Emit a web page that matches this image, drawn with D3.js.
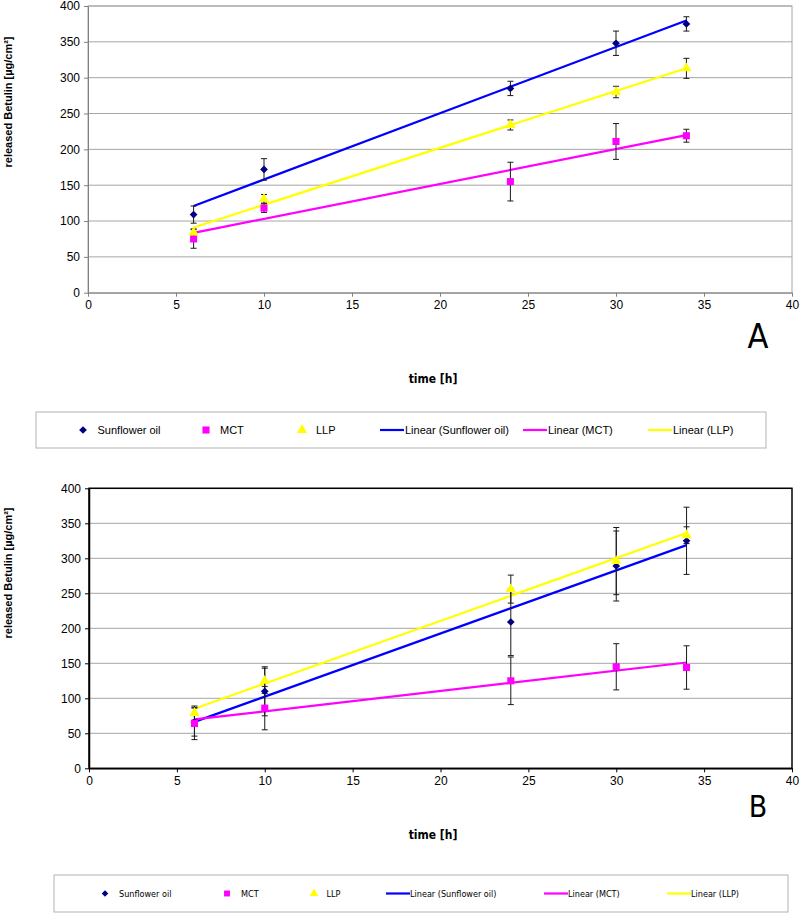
<!DOCTYPE html>
<html><head><meta charset="utf-8">
<script src="https://cdn.jsdelivr.net/npm/d3@7"></script>
<style>body{margin:0;background:#fff}svg{display:block}</style>
</head><body>
<svg id="chart" width="800" height="922"></svg>
<script>
// ---------- data ----------
const time = [6, 10, 24, 30, 34];
const xTicks = [0, 5, 10, 15, 20, 25, 30, 35, 40];
const yTicks = [0, 50, 100, 150, 200, 250, 300, 350, 400];
const seriesNames = ["Sunflower oil", "MCT", "LLP"];
const legendLabels = ["Sunflower oil", "MCT", "LLP", "Linear (Sunflower oil)", "Linear (MCT)", "Linear (LLP)"];

// Panel A
const aSunflower = [109, 172, 285, 348, 375];
const aSunflowerErr = [12, 15, 10, 17, 10];
const aMCT = [75, 118, 155, 211, 219];
const aMCTErr = [13, 6, 27, 25, 9];
const aLLP = [84, 131, 234, 280, 313];
const aLLPErr = [5, 6, 7, 8, 14];

// Panel B
const bSunflower = [66, 110, 209, 289, 325];
const bSunflowerErr = [20, 35, 48, 50, 48];
const bMCT = [64, 86, 125, 145, 144];
const bMCTErr = [23, 31, 34, 33, 31];
const bLLP = [79, 125, 256, 296, 333];
const bLLPErr = [10, 18, 20, 48, 12];

// ---------- styling ----------
const colors = ["#000080", "#ff00ff", "#ffff00"];
const lineColors = ["#0000ff", "#ff00ff", "#ffff00"];
const symbols = [d3.symbolSquare, d3.symbolSquare, d3.symbolTriangle];
const symRot = [45, 0, 0];
const symSizes = [30, 50, 45];

const svg = d3.select("#chart");
const FONT = "'Liberation Sans', Arial, sans-serif";
const NARROW = "'Liberation Sans Narrow', 'DejaVu Sans Condensed', 'Liberation Sans', sans-serif";

function linFit(xs, ys) {
  const n = xs.length, mx = d3.mean(xs), my = d3.mean(ys);
  let sxy = 0, sxx = 0;
  for (let i = 0; i < n; i++) { sxy += (xs[i]-mx)*(ys[i]-my); sxx += (xs[i]-mx)**2; }
  const m = sxy / sxx; return x => my + m*(x - mx);
}

function drawPanel(cfg) {
  const g = svg.append("g");
  const x = d3.scaleLinear().domain([0, 40]).range([cfg.left, cfg.right]);
  const y = d3.scaleLinear().domain([0, 400]).range([cfg.bottom, cfg.top]);

  // gridlines
  g.append("g").selectAll("line").data(yTicks.filter(d => d > 0)).join("line")
    .attr("x1", cfg.left).attr("x2", cfg.right)
    .attr("y1", d => y(d)).attr("y2", d => y(d))
    .attr("stroke", "#a6a6a6").attr("stroke-width", 1);

  // frame
  g.append("rect").attr("x", cfg.left).attr("y", cfg.top)
    .attr("width", cfg.right - cfg.left).attr("height", cfg.bottom - cfg.top)
    .attr("fill", "none").attr("stroke", cfg.frame).attr("stroke-width", cfg.frameW);

  // axes
  const ya = g.append("g").attr("transform", `translate(${cfg.left},0)`)
    .call(d3.axisLeft(y).tickValues(yTicks).tickSize(4).tickPadding(4).tickSizeOuter(0));
  const xa = g.append("g").attr("transform", `translate(0,${cfg.bottom})`)
    .call(d3.axisBottom(x).tickValues(xTicks).tickSize(4).tickPadding(4).tickSizeOuter(0));
  [ya, xa].forEach(a => {
    a.select(".domain").attr("stroke", cfg.axis).attr("stroke-width", cfg.frameW);
    a.selectAll(".tick line").attr("stroke", cfg.axis);
    a.selectAll("text").attr("font-family", FONT).attr("font-size", 12).attr("fill", "#000");
  });

  const data = [cfg.sun, cfg.mct, cfg.llp];
  const errs = [cfg.sunErr, cfg.mctErr, cfg.llpErr];

  // trendlines
  data.forEach((vals, s) => {
    const f = linFit(time, vals);
    const x0 = d3.min(time), x1 = d3.max(time);
    g.append("line").attr("x1", x(x0)).attr("x2", x(x1))
      .attr("y1", y(f(x0))).attr("y2", y(f(x1)))
      .attr("stroke", lineColors[s]).attr("stroke-width", 2.2);
  });

  // error bars
  data.forEach((vals, s) => {
    const eg = g.append("g").attr("stroke", "#1a1a1a").attr("stroke-width", 1);
    time.forEach((t, i) => {
      const lo = y(vals[i] - errs[s][i]), hi = y(vals[i] + errs[s][i]), cx = x(t);
      eg.append("line").attr("x1", cx).attr("x2", cx).attr("y1", lo).attr("y2", hi);
      eg.append("line").attr("x1", cx-3).attr("x2", cx+3).attr("y1", lo).attr("y2", lo);
      eg.append("line").attr("x1", cx-3).attr("x2", cx+3).attr("y1", hi).attr("y2", hi);
    });
  });

  // markers
  data.forEach((vals, s) => {
    g.append("g").selectAll("path").data(vals).join("path")
      .attr("d", d3.symbol().type(symbols[s]).size(symSizes[s]))
      .attr("transform", (d, i) => `translate(${x(time[i])},${y(d)}) rotate(${symRot[s]})`)
      .attr("fill", colors[s]);
  });

  // y title
  g.append("text").attr("transform", `translate(${cfg.yTitleX},${cfg.yTitleY}) rotate(-90)`)
    .attr("text-anchor", "middle").attr("dominant-baseline", "central")
    .attr("font-family", FONT).attr("font-weight", "bold").attr("font-size", cfg.yTitleSize)
    .text("released Betulin [µg/cm²]");
  // x title
  g.append("text").attr("x", 433).attr("y", cfg.xTitleY)
    .attr("text-anchor", "middle").attr("font-family", NARROW).attr("font-weight", "bold")
    .attr("font-size", 12).text("time [h]");
  // panel letter
  g.append("text").attr("x", 758).attr("y", cfg.letterY).attr("text-anchor", "middle")
    .attr("font-family", NARROW).attr("font-size", cfg.letterSize).text(cfg.letter);

  // legend
  const L = cfg.legend;
  const lg = svg.append("g");
  lg.append("rect").attr("x", L.x0).attr("y", L.y0).attr("width", L.x1 - L.x0).attr("height", L.y1 - L.y0)
    .attr("fill", "#fff").attr("stroke", "#b3b3b3").attr("stroke-width", 1);
  const cy = (L.y0 + L.y1) / 2;
  legendLabels.forEach((lab, i) => {
    const ix = L.icon[i];
    if (i < 3) {
      lg.append("path").attr("d", d3.symbol().type(symbols[i]).size(symSizes[i] * L.symScale))
        .attr("transform", `translate(${ix},${cy}) rotate(${symRot[i]})`).attr("fill", colors[i]);
    } else {
      lg.append("line").attr("x1", ix).attr("x2", ix + L.lineLen).attr("y1", cy).attr("y2", cy)
        .attr("stroke", lineColors[i-3]).attr("stroke-width", 2.2);
    }
    lg.append("text").attr("x", L.text[i]).attr("y", cy).attr("dominant-baseline", "central")
      .attr("font-family", L.font).attr("font-size", L.size).text(lab);
  });
}

drawPanel({
  left: 88, right: 792, top: 6, bottom: 292.7, frame: "#a6a6a6", axis: "#808080", frameW: 1,
  sun: aSunflower, sunErr: aSunflowerErr, mct: aMCT, mctErr: aMCTErr, llp: aLLP, llpErr: aLLPErr,
  yTitleX: 8, yTitleY: 102, yTitleSize: 11, xTitleY: 383, letter: "A", letterY: 348, letterSize: 34,
  legend: { x0: 36, x1: 766, y0: 412, y1: 448, size: 11, font: FONT, symScale: 1, lineLen: 24,
    icon: [83, 206, 302, 380, 523, 648], text: [97.5, 220, 316, 405, 548, 673] }
});
drawPanel({
  left: 89, right: 792, top: 488.3, bottom: 768.3, frame: "#000", axis: "#000", frameW: 1.5,
  sun: bSunflower, sunErr: bSunflowerErr, mct: bMCT, mctErr: bMCTErr, llp: bLLP, llpErr: bLLPErr,
  yTitleX: 8, yTitleY: 573, yTitleSize: 11, xTitleY: 839, letter: "B", letterY: 817, letterSize: 30,
  legend: { x0: 54, x1: 788, y0: 875, y1: 912, size: 9, font: NARROW, symScale: 0.7, lineLen: 24,
    icon: [105, 227, 314, 386, 544, 667], text: [119, 241, 326.5, 410, 568, 691] }
});
</script>
</body></html>
